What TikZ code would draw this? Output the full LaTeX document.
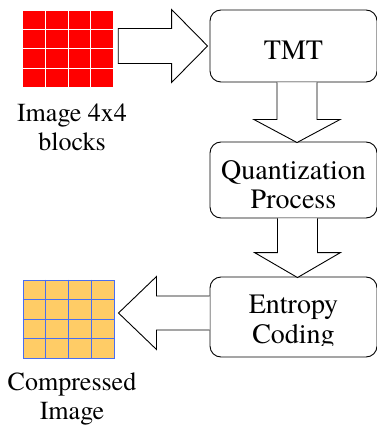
\documentclass[tikz,border=0pt]{standalone}
\usepackage{fontspec}
\IfFontExistsTF{texgyretermes-regular.otf}
  {\newfontfamily\timesfont{texgyretermes-regular.otf}}
  {\newfontfamily\timesfont{Liberation Serif}}
\usetikzlibrary{calc}
\definecolor{gridred}{HTML}{FF0000}
\definecolor{gridorange}{HTML}{FFCC66}
\definecolor{gridblue}{HTML}{4A6EF0}
\tikzset{
  procbox/.style={draw=black, line width=0.9pt, rounded corners=11pt, minimum width=167pt, inner sep=0pt},
  proctext/.style={align=center, font=\timesfont\fontsize{28}{29}\selectfont, inner sep=0pt},
  lbl/.style={align=center, font=\timesfont\fontsize{26}{29}\selectfont, inner sep=0pt},
  barrow/.style={draw=black, line width=0.9pt, fill=white, line join=miter},
}
\begin{document}
\begin{tikzpicture}[x=1pt,y=-1pt]
\useasboundingbox (0,0) rectangle (376,427);
% process boxes
\node[procbox, minimum height=72pt] (tmt) at (293.5,46) {};
\node[proctext] (tmttext) at ($(tmt.center)+(0,4)$) {TMT};
\node[procbox, minimum height=76pt] (quant) at (293.5,180) {};
\node[proctext] (quanttext) at ($(quant.center)+(0,4.5)$) {Quantization\\Process};
\node[procbox, minimum height=80pt] (ent) at (293.5,317) {};
\begin{scope}
  \clip (200,270) rectangle (376,345);
  \node[proctext, font=\timesfont\fontsize{28}{30}\selectfont] (enttext) at ($(ent.center)+(0,5)$) {Entropy\\Coding};
\end{scope}
% input image grid
\node[minimum width=90pt, minimum height=76pt, inner sep=0pt, fill=gridred] (img) at (68,49) {};
\foreach \i in {1,2,3} {
  \draw[white, line width=1pt] ($(img.north west)!\i/4!(img.north east)$) -- ($(img.south west)!\i/4!(img.south east)$);
  \draw[white, line width=1pt] ($(img.north west)!\i/4!(img.south west)$) -- ($(img.north east)!\i/4!(img.south east)$);
}
\node[lbl, anchor=north] (imglbl) at (72,104) {Image 4x4\\blocks};
% compressed image grid
\node[minimum width=91pt, minimum height=78pt, inner sep=0pt, fill=gridorange, draw=gridblue, line width=1pt] (cimg) at (68.5,319) {};
\foreach \i in {1,2,3} {
  \draw[gridblue, line width=1pt] ($(cimg.north west)!\i/4!(cimg.north east)$) -- ($(cimg.south west)!\i/4!(cimg.south east)$);
  \draw[gridblue, line width=1pt] ($(cimg.north west)!\i/4!(cimg.south west)$) -- ($(cimg.north east)!\i/4!(cimg.south east)$);
}
\node[lbl, anchor=north] (cimglbl) at (72,373) {Compressed\\Image};
% arrow: image -> TMT
\coordinate (r1s) at ($(img.east |- tmt.west)+(5,0)$);
\coordinate (r1t) at ($(tmt.west)+(-2,0)$);
\coordinate (r1h) at ($(r1t)+(-36,0)$);
\draw[barrow] ($(r1s)+(0,-17.5)$) -- ($(r1h)+(0,-17.5)$) -- ($(r1h)+(0,-36.5)$) -- (r1t)
  -- ($(r1h)+(0,36.5)$) -- ($(r1h)+(0,17.5)$) -- ($(r1s)+(0,17.5)$) -- cycle;
% arrow: TMT -> Quantization
\coordinate (d1s) at ($(tmt.south)+(3.5,0)$);
\coordinate (d1t) at ($(quant.north)+(3.5,1)$);
\coordinate (d1h) at ($(d1t)+(0,-23)$);
\draw[barrow] ($(d1s)+(-20,0)$) -- ($(d1h)+(-20,0)$) -- ($(d1h)+(-43,0)$) -- (d1t)
  -- ($(d1h)+(43,0)$) -- ($(d1h)+(20,0)$) -- ($(d1s)+(20,0)$);
% arrow: Quantization -> Entropy
\coordinate (d2s) at ($(quant.south)+(4,0)$);
\coordinate (d2t) at ($(ent.north)+(4,1)$);
\coordinate (d2h) at ($(d2t)+(0,-25)$);
\draw[barrow] ($(d2s)+(-20,0)$) -- ($(d2h)+(-20,0)$) -- ($(d2h)+(-43,0)$) -- (d2t)
  -- ($(d2h)+(43,0)$) -- ($(d2h)+(20,0)$) -- ($(d2s)+(20,0)$);
% arrow: Entropy -> compressed image
\coordinate (l1s) at ($(ent.west)+(0,-4)$);
\coordinate (l1t) at ($(cimg.east |- l1s)+(4,0)$);
\coordinate (l1h) at ($(l1t)+(38,0)$);
\draw[barrow] ($(l1s)+(0,-17)$) -- ($(l1h)+(0,-17)$) -- ($(l1h)+(0,-36.5)$) -- (l1t)
  -- ($(l1h)+(0,36.5)$) -- ($(l1h)+(0,17)$) -- ($(l1s)+(0,17)$);
\end{tikzpicture}
\end{document}
